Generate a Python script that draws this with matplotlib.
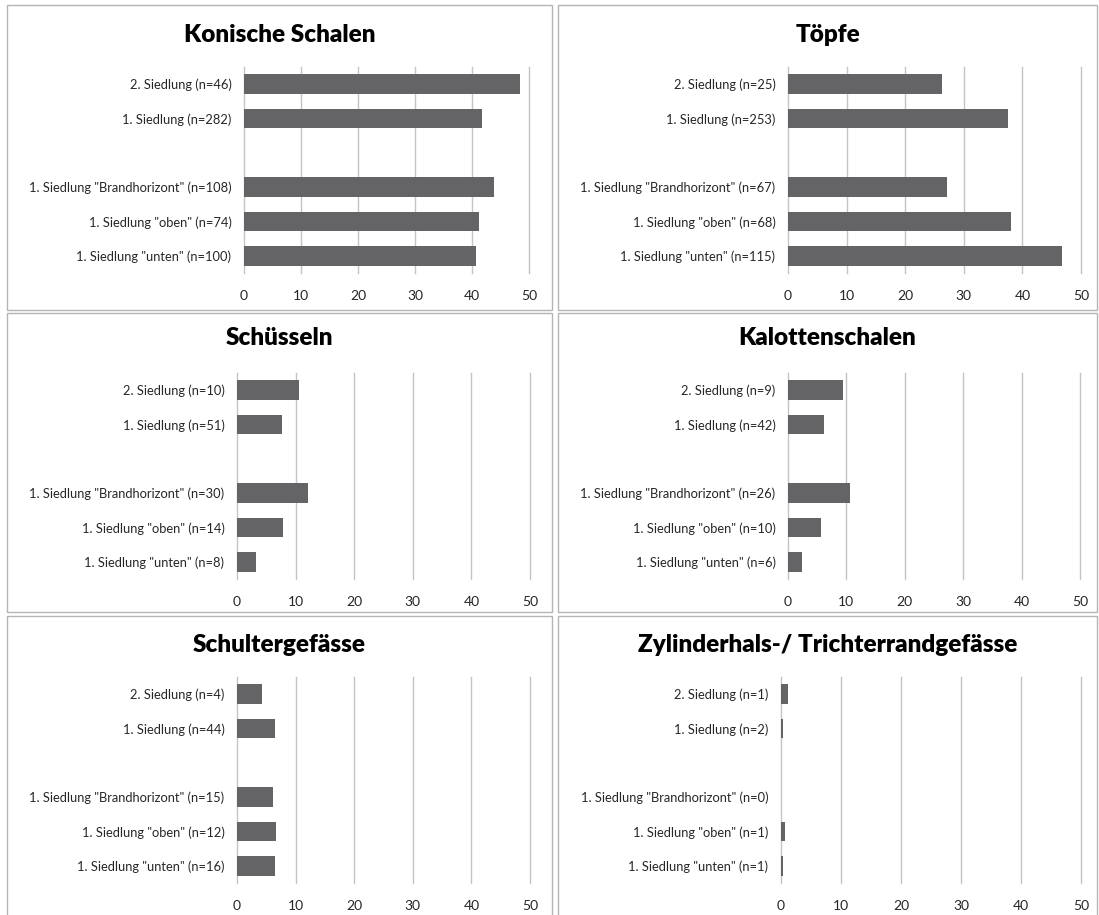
import numpy as np
import matplotlib
matplotlib.use("Agg")
import matplotlib.pyplot as plt
from matplotlib.patches import Rectangle

plt.rcParams['font.family'] = ['Lato', 'DejaVu Sans']

# Kategorien von oben nach unten; "" = Leerzeile
GROUPS = ['2. Siedlung', '1. Siedlung', '', '1. Siedlung "Brandhorizont"',
          '1. Siedlung "oben"', '1. Siedlung "unten"']

TITLES = ["Konische Schalen", "Töpfe", "Schüsseln", "Kalottenschalen",
          "Schultergefässe", "Zylinderhals-/ Trichterrandgefässe"]

# Anzahl n je Kategorie
N_KONISCH  = [46, 282, None, 108, 74, 100]
N_TOEPFE   = [25, 253, None, 67, 68, 115]
N_SCHUESS  = [10, 51, None, 30, 14, 8]
N_KALOTTE  = [9, 42, None, 26, 10, 6]
N_SCHULTER = [4, 44, None, 15, 12, 16]
N_ZYLINDER = [1, 2, None, 0, 1, 1]

# Anteil in %
V_KONISCH  = [48.4, 41.8, 0, 43.9, 41.3, 40.7]
V_TOEPFE   = [26.3, 37.5, 0, 27.2, 38.0, 46.7]
V_SCHUESS  = [10.5, 7.6, 0, 12.2, 7.8, 3.3]
V_KALOTTE  = [9.5, 6.2, 0, 10.6, 5.6, 2.4]
V_SCHULTER = [4.2, 6.5, 0, 6.1, 6.7, 6.5]
V_ZYLINDER = [1.1, 0.3, 0, 0.0, 0.6, 0.4]

TICKS = [0, 10, 20, 30, 40, 50]

NS = [N_KONISCH, N_TOEPFE, N_SCHUESS, N_KALOTTE, N_SCHULTER, N_ZYLINDER]
VS = [V_KONISCH, V_TOEPFE, V_SCHUESS, V_KALOTTE, V_SCHULTER, V_ZYLINDER]

W, H = 1099, 915
# Achsen in Pixeln: links, rechts, oben, unten
AX_PX = [(244, 529, 67, 273), (788, 1081, 67, 273),
         (237, 530, 373, 579), (788, 1080, 373, 579),
         (237, 530, 677, 883), (781, 1081, 677, 883)]
# Rahmen der Einzeldiagramme
BOX_PX = [(7, 552, 5, 310), (558, 1097, 5, 310),
          (7, 552, 313, 612), (558, 1097, 313, 612),
          (7, 552, 616, 930), (558, 1097, 616, 930)]
TITLE_Y = [35, 35, 338, 338, 645, 645]

fig = plt.figure(figsize=(W/100, H/100), dpi=100)
BAR = "#646466"; GRID = "#c4c4c4"

for i in range(6):
    x0, x1, y0, y1 = BOX_PX[i]
    fig.add_artist(Rectangle((x0/W, 1-y1/H), (x1-x0)/W, (y1-y0)/H,
                             transform=fig.transFigure, fill=False,
                             ec="#b4b4b4", lw=1.0))
    fig.text((x0+x1)/2/W, 1-TITLE_Y[i]/H, TITLES[i], ha="center", va="center",
             fontsize=17.5, fontweight="heavy", color="black")

    l, r, t, b = AX_PX[i]
    ax = fig.add_axes([l/W, 1-b/H, (r-l)/W, (b-t)/H])
    labels = ["" if n is None else f"{g} (n={n})" for g, n in zip(GROUPS, NS[i])]
    y = np.arange(len(GROUPS))
    ax.barh(y, VS[i], height=0.57, color=BAR, zorder=3)
    ax.set_yticks(y, labels)
    ax.set_ylim(len(GROUPS)-0.5, -0.5)
    ax.set_xlim(0, 50)
    ax.set_xticks(TICKS)
    for s in ax.spines.values():
        s.set_visible(False)
    ax.grid(axis="x", color=GRID, lw=1.0, zorder=0)
    for gl in ax.xaxis.get_gridlines():
        gl.set_clip_on(False)
    ax.tick_params(length=0, labelsize=9.3, colors="#262626", pad=9)
    ax.tick_params(axis="x", pad=12, labelsize=10)

fig.savefig("out.png", dpi=100)
